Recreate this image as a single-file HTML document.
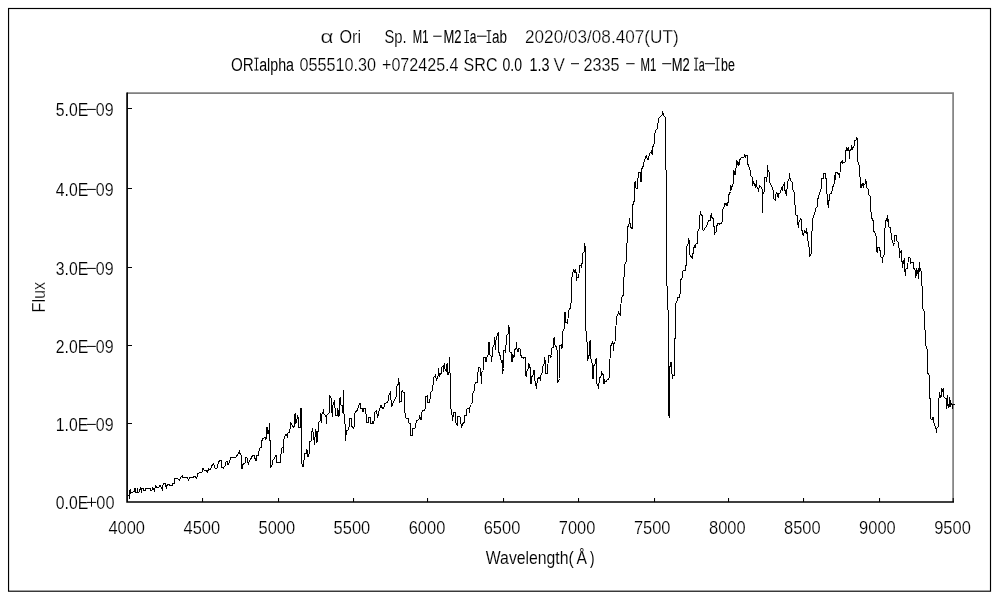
<!DOCTYPE html>
<html><head><meta charset="utf-8"><title>alpha Ori spectrum</title>
<style>
html,body{margin:0;padding:0;background:#fff;}
body{width:1000px;height:600px;overflow:hidden;}
svg{display:block;will-change:transform;}
text{font-family:"Liberation Sans",sans-serif;fill:#000;stroke:#fff;stroke-width:0.25px;}
</style></head><body>
<svg width="1000" height="600" viewBox="0 0 1000 600">

<rect x="8.55" y="8.5" width="981.95" height="582.7" fill="none" stroke="#000" stroke-width="1.15"/>
<path d="M127,93.05 H953.1 V502" fill="none" stroke="#808080" stroke-width="1.7"/>
<path d="M127.1,92.4 V502 H954" fill="none" stroke="#000" stroke-width="1.7"/>
<rect x="127.5" y="108" width="4.5" height="1" fill="#000"/>
<rect x="127.5" y="188" width="4.5" height="1" fill="#000"/>
<rect x="127.5" y="267" width="4.5" height="1" fill="#000"/>
<rect x="127.5" y="345" width="4.5" height="1" fill="#000"/>
<rect x="127.5" y="423" width="4.5" height="1" fill="#000"/>
<rect x="202" y="498" width="1.05" height="4" fill="#000"/>
<rect x="278" y="498" width="1.05" height="4" fill="#000"/>
<rect x="353" y="498" width="1.05" height="4" fill="#000"/>
<rect x="427" y="498" width="1.05" height="4" fill="#000"/>
<rect x="503" y="498" width="1.05" height="4" fill="#000"/>
<rect x="578" y="498" width="1.05" height="4" fill="#000"/>
<rect x="654" y="498" width="1.05" height="4" fill="#000"/>
<rect x="728" y="498" width="1.05" height="4" fill="#000"/>
<rect x="803" y="498" width="1.05" height="4" fill="#000"/>
<rect x="879" y="498" width="1.05" height="4" fill="#000"/>
<rect x="952.7" y="498" width="1.05" height="4" fill="#000"/>
<polyline points="128,495.5 129.3,496 129.5,498.7 129.8,490.2 130.5,490 130.7,494 131,492.5 133,492.5 133.2,491.3 134.3,491.3 134.6,488.3 135.4,488.3 135.6,492.7 137,492.7 137.2,488.3 137.8,488.5 138,492.5 138.8,492.5 139.5,490 140.2,489.5 140.5,487.3 141,487.5 141.3,492.7 141.8,492.5 142,488.3 143.5,488.3 144,490.5 145.3,490.3 146,488.2 150,488 151,490.5 152,490.3 152.5,488 153.5,488.7 154.3,490.7 155,488.5 155.3,485 155.8,485.2 156.2,487.7 158.8,488 159.5,486 160.5,485.3 161,487.3 161.8,487.6 162.3,490.7 162.8,488 163.2,483.2 165.3,483.2 165.8,486 166.5,487.4 167,485.5 167.5,484.3 169,484.3 169.5,485.4 172.5,485.4 173,483 174.3,483 174.7,479 175,478.5 177.5,478.5 179.5,480 180.5,477.5 182.5,476 183,477.5 187.5,478 188.5,480 189.5,477.5 193,477.5 195,476 196.5,478.5 198,473.5 202,472 203,468.5 204,470 206.5,471 207.5,472 208.5,469 210.5,469.5 212,465.5 213.5,464 215,468 217,468 218.5,462 220,460.5 221.5,460.5 222,467.5 223.5,468 225,466 225.5,463 227,461 228,465 229.5,462 230.5,458 232,457 236,457 236.5,455.5 238.5,454.5 239.5,450.5 240,453.5 241,455 241.5,468 242.5,468 243,464.5 245,463 246,457.5 247,458 248.5,465 249,462 251,458.5 252.5,455.5 254,455.5 255.5,460 256.5,460 256.5,455.5 258.5,455 259,451 260,448 261.5,447 262,440.5 263,438.5 265,437.5 266,440 266.5,427.5 267.8,427.5 268,433.5 269,430 269.5,423 269.5,440 270.5,440.5 270.5,467 272,465.5 272.5,460.5 274.5,458.5 275.5,455.5 276.5,455.5 276.5,462 280.5,462 281,454 281.8,448 283,447.5 283.2,452.5 283.5,442 284.5,436.5 286,434.5 287.5,437 288,433 289.5,432.5 290,429.5 290.5,422.5 292,425 294,428 294.3,415 295.3,413.3 295.8,414 296,423 296.8,422.3 297.3,415 298,417 298.8,417.3 299,427.5 300.3,427.5 300.3,408.3 301.5,408.3 301.5,463 303,467 304,460 305,453.5 306.5,453 306.8,449 308,456.5 308.5,454.5 309.5,453 310,441 311,441 311.5,433.5 312.5,428.5 313.5,435 314.5,445 315.5,429 316.5,433 317,443 317.5,432 318.5,431 319,422 320,421.5 320.5,413.5 321.5,423 322,414 323.5,410.5 324,414 326,416.5 326.5,423.5 327,415 329,413.5 329.5,395.5 331,397.5 331.5,408 332.5,417 333,405 334.5,400.5 335,408 335.5,415 337.5,415 337.8,408 339,417 339.5,398.5 340.5,397.5 341,405 342,405.5 343,412.5 343.5,390 343.5,413 344.5,414.5 345,424 345.5,440.5 346.5,430.5 348,430 349.5,425.5 349.5,418.5 351.5,418.5 352,426.5 353.5,428.5 354.5,425 354.5,413.5 356,411.5 357.5,410 359.5,403.5 360.5,403.5 360.8,408.5 362.5,408.5 363,412 364,408.5 365.5,408.5 365.8,414 366.5,414.5 366.5,422.5 368.5,422.5 368.5,417.5 370.5,417.5 370.5,423 372,423.5 373,421.5 373.5,423.5 374.5,419 375,412 376.5,410.5 377.5,418 378.5,413.5 379.5,409 381,405.5 382.5,408.5 384.5,407.5 385,403.5 387.5,402 388.5,399.5 389,395 390.5,392.5 391.5,407 393,403 394.5,400 396.5,396.5 396.5,396.5 397,386 398.5,384 398.5,378 399.5,385 399.5,402.5 401.5,401 401.8,391.5 402.5,390.5 403,392 404.5,392.5 404.5,412.5 405.5,413.5 406,418 408,418 409,423 410.5,423.5 410.8,435.5 412.5,435.5 412.5,428.5 415,428 416.5,421 419,419 419.5,415.5 421,420 421.5,414 422.5,410.5 424.5,410 425.5,407.5 425.5,397 427.5,395.5 427.5,402.5 429.5,402.5 430,399 430.5,392.5 432.5,390.5 433,385.5 434,377 435,376.5 435.5,375.5 436.5,380 438,376 438.5,368.5 439.5,377 440,375 441.5,373 442,367 443.5,365.5 443.8,372 444.5,363.5 445,369 446.5,371 447,364 447.8,363.5 448,375 449,372 449.5,357.5 449.5,372.5 450.5,373.5 450.5,408.5 450.5,408.5 451.5,409.5 452,415 452.5,420.5 453.5,413 455.5,412.5 455.8,423 457.5,425.5 458,416 459.5,416.5 460.5,417.5 461,424 461.5,427.5 462.5,424 464.5,422 465,415.5 466,416 466.5,410 468,408 469.5,408 469.7,412.5 470,407 471.5,404.5 472.5,402 472.5,394 474,391 474.5,384.5 475.5,383 477.5,382.5 477.8,374.5 478.5,367.5 480,367.5 480.5,375.5 481.2,376 481.5,383.5 481.8,372.5 483,371 483.5,357.5 485,357.5 486,362 486.5,358 488,355.5 488.5,342.5 489.5,342.5 489.8,354.5 491,356 491.5,362 492,357.5 492.5,348 494,345 494.5,337.5 495.5,350 496,340 497.5,334.5 498.5,332.5 498.5,351.5 499.5,353.5 500.5,357.5 501.5,362 502.5,361 502.5,373.5 503.5,368.5 503.8,350.5 505,350 505.2,353 505.5,346 506.5,344 506.8,335.5 508.2,334 508.5,325.5 509.5,329 509.7,352 511.5,353 512,362 512.8,354 514,357.5 514.5,350 516,348.5 516.5,342.5 517,349 518,352 518.5,349 520,348.5 520.5,354.5 522,357.5 523.5,358 524.5,357.5 525.5,357.5 526,375.5 526.5,377 527,371 528.5,368 529,363.5 529.5,367 530.5,367.5 530.5,383.5 531.5,383.5 531.8,377 533,375 533.5,370.5 534.5,370.5 534.8,379.5 536.5,388.5 537.5,378.5 539.5,377.5 540.5,380.5 540.5,375.5 542.5,372.5 542.8,366.5 544,364 544.5,357.5 545.5,361.5 545.8,373.5 547.5,373.5 547.8,364 548.5,363.5 549,355.5 550.5,355.5 550.5,357.5 551.5,355.5 551.8,348 553.5,347 553.8,339 554.5,337 554.8,344.5 556.5,347.5 557.5,352.5 557.8,382.5 559.5,378.5 559.8,345.5 561.5,345 561.8,348.5 562.5,345 562.5,331.5 564.5,328.5 564.8,312 565.5,312 565.8,322.5 567.5,323.5 567.8,319 568.5,318.5 568.8,310.5 570.5,307.5 571,303 571.7,302.5 571.5,279 572.5,275 573.5,270 574.5,272 575.2,270 576.2,273 576.5,280.5 577.2,277.5 578.5,277.5 578.8,274.5 579.5,273.5 579.8,265.5 581,265 581.5,267.5 581.8,263.5 582.5,263 582.8,253 584,252.5 584.5,243 584.8,252 585.2,246 585.5,295 585.5,330.5 586.5,331.5 586.8,342 587.5,342.5 587.8,360.5 588.5,356 589.3,355.5 589.5,342.5 590.5,340.5 590.8,358.5 591.5,359.5 592.2,364.5 592.5,378.5 593.5,378 593.8,366 595,364 595.5,359.5 596.5,358.5 596.8,383.5 598,385.5 598.5,388.5 599.5,378.5 601.5,375 601.8,372.5 602.8,374.5 603.5,375 603.8,383.5 604.5,383.5 604.8,380.5 606,382 607.5,379.5 609.5,378.5 609.8,359 610.5,358.5 610.8,346 612.5,342.5 613.5,346 613.8,350.5 614,343.5 615.5,341.5 615.8,326 616.5,325.5 616.8,316.5 618.5,312.5 619.5,314.5 620.5,315.5 620.8,304.5 621.5,303.5 621.8,297.5 623.5,294.5 623.5,278 624.5,277.5 624.8,264.5 626.5,261.5 626.8,243 627.8,242.5 627.5,227.5 629,224.5 629.5,218.5 630.5,227 632.2,228.5 632.5,206.5 633.8,201.5 634.5,201 634.8,182.5 635.3,180.8 635.6,187.9 637.3,188.6 638.4,172.3 640.5,172.3 641,182.2 641.5,169.4 643.4,165.9 644.4,160.2 646.2,156 648,160.2 649.7,153.9 651.4,151 652.3,155.3 652.6,147.5 654.3,143.2 654.6,134 656.1,129.8 657.5,128.4 658.5,118.5 660.4,116.3 662.2,114.9 662.8,112.4 663.9,115.6 665.3,117.5 665.6,169.4 666.5,170.2 666.5,285.5 667.5,286.5 667.5,309.5 668.5,310.5 668.5,415 669.5,417.5 669.8,368 670.5,363 671.5,362.5 672.2,378.5 673.2,375.5 674.5,375 674.5,339 675.5,338.5 675.5,304.5 676.2,302.5 677.2,301 677.5,297.5 679.5,297 679.5,294.5 680.5,293.5 680.5,280.5 682,278 682.5,271.5 683.5,270.5 685.2,270.5 685.5,266 686.5,265.5 686.5,260 686.5,247 688.2,244 688.5,238.5 689.5,241 689.8,255 692.5,258.5 693.5,249 694.5,246 695.5,247.5 696,244 697.2,243.5 697.5,231.5 699.2,229 699.5,217 700.5,212.5 701.5,215 702.2,215.5 702.5,229.5 703.5,230.5 707.5,224.5 708.5,220.5 710.5,220 710.8,216 711.5,213.5 711.8,217.5 713.2,218.5 713.8,226.5 714.5,227 714.8,233.5 716.2,232 716.5,227 717.5,224 719,223.5 719.5,224.5 720.5,223.5 721.5,223 722.5,220.5 722.8,209.5 724.2,207 725,203 726.2,205 726.8,203.5 727.5,205 728,202.5 728.8,202 728.8,195 730.5,191.5 730.8,185 731.2,190 732.5,184.5 733.5,183.5 733.8,170.5 735,175 735.5,168.5 736.5,167.5 736.8,160 737.8,164.5 738.2,162 739,165.5 739.5,160.5 740.8,158 742.5,157.5 744.2,157 744.5,155.5 745.5,158 745.8,155.5 747.5,155.5 747.8,164.5 748.8,165.5 749.2,169 750.2,170 750.8,175.5 752.2,177 752.8,185.5 753.5,181 754.5,184.5 755.8,187.5 756.2,180 756.8,186.5 758.5,190.5 759.5,185.5 760.8,187 761.5,188 762,189 762,213.5 762.2,194 762.8,194 764.2,191.5 764.5,177.5 766,177 766.5,182 767,178 767.5,165 768,170 769.2,172.5 769.5,182 770.8,185 772.5,187.5 773.5,193 773.8,198.5 775.5,200.5 775.8,194 776.8,192.5 777.5,194.5 778.2,197.5 778.5,193.5 780,193 781.5,188.5 782.2,190 783.2,185 784.2,183.5 784.5,190 785.5,190.5 786.2,195.5 786.5,189.5 787.2,188.5 787.5,182 789.2,179 789.5,173 789.8,178 791.2,181.5 792.5,182.5 792.8,189.5 794.2,192.5 795.7,215 797.2,215.7 798.3,227.7 799.2,221 801,218.7 801.7,229.2 803.2,235.2 804.7,230.7 806.2,233 806.7,228.5 807.7,239 809.2,248 809.7,257 811.2,253.2 811.5,231.5 812.2,230.7 812.7,218.7 814.8,212.7 815.7,208.2 817.2,206.7 817.8,199.2 819.3,194 820.5,190 821.5,188 821.8,178.5 823,179 823.5,173.5 825.5,173.5 825.8,178.5 826.5,179 826.8,190 827.2,197.7 828.3,208.2 829.2,198.5 829.8,194 831.7,193.2 832.2,190 832.2,190 832.5,187.5 834,184.5 834.5,175.5 835.2,180 835.8,172.5 837,172.5 839,174.5 839.5,177.5 839.8,173 840.5,172.5 840.8,163 842.2,160.5 842.8,163 845.2,162 845.5,150.5 846.5,150 846.8,147.5 847.5,150.5 848.2,147.5 848.8,150.5 849.5,151 849.5,158.5 850,150.5 851.2,149.5 851.5,145.5 852.5,148.5 853.5,146.5 854.5,145.5 854.8,140.5 856.2,140 856.5,137.5 857.5,139 857.8,162 858.8,162.5 859.2,166.5 859.8,167 860,177 860.8,177.5 861,188 861.5,184.5 862.5,184 863.5,187.5 863.8,184 865,184.5 865.5,180.5 866.5,182.5 866.8,187.5 868.5,189.5 868.8,194.5 870.5,197 870.8,212 871.5,212.5 871.8,218 873.2,221 873.8,231.5 874.5,231.5 876.5,237.5 876.8,251 877.5,252.5 877.8,247.5 879.5,247.5 879.8,250.5 880.5,251 880.8,257 882.2,257.5 882.5,262.5 882.8,257 884.5,254.5 884.5,229 885.5,228.5 885.8,221 886.8,219 887.5,215.5 888,222 888.5,219 889,227 890.5,228 891.2,235 891.8,235.5 891.5,239 893,242.5 893.5,245.5 894.5,242.5 894.8,235.5 896.5,235.5 896.8,240.5 898.5,242.5 898.8,247.5 899.8,249 899.5,257.5 900.2,252 901.5,250.5 901.8,261.5 902.5,262 902.5,267.5 903.5,261 904.5,258.5 904.8,270 905.5,275.5 906,269 907.5,268 907.8,263.5 908.5,262.5 908.8,257.5 910,257.5 910.5,263 912,262.5 913.5,262.5 913.8,268.5 915,269.5 915.5,277.5 916.2,268 916.8,275.5 917.5,270 918.5,278.5 919,268 919.5,262 919.8,272 920.5,269.5 921.5,272.5 922,286 922.3,287 922.3,308.5 923.5,309.5 924.5,312.5 924.5,325 925.5,335 925.5,344.5 926.7,349 927.5,349.5 927.5,373.5 928.5,374 929.5,376.5 929.5,398.5 930.5,398.5 930.5,418.5 932,419.5 932.5,417.5 933.2,417.5 933.5,422 934.5,423.5 934.8,426 935.8,427.5 936.5,432.5 936.8,428 937.8,427 938.5,426.5 938.5,399 939.5,398.5 939.8,392.5 940.2,398 941.2,397 941.5,388.5 942.2,392 943.2,388.5 943.5,396.5 944.5,397.5 945.2,398 946.2,398 946.5,408.5 946.8,404 947.5,395.5 947.8,405 948.5,406.5 949,404 949.5,397.5 950,407 950.5,400.5 951.2,404.5 952,404 952.5,408.5 952.8,404 954.5,404" fill="none" stroke="#000" stroke-width="1" stroke-linejoin="miter" stroke-linecap="butt" shape-rendering="crispEdges"/>
<text x="55.8" y="116" font-size="18" text-anchor="start" textLength="32.4" lengthAdjust="spacingAndGlyphs" style="stroke-width:0.1px">5.0E</text>
<rect x="87" y="108.9" width="8.8" height="1" fill="#000"/>
<text x="95.8" y="116" font-size="18" text-anchor="start" textLength="17.8" lengthAdjust="spacingAndGlyphs" style="stroke-width:0.18px">09</text>
<text x="55.8" y="196" font-size="18" text-anchor="start" textLength="32.4" lengthAdjust="spacingAndGlyphs" style="stroke-width:0.1px">4.0E</text>
<rect x="87" y="188.9" width="8.8" height="1" fill="#000"/>
<text x="95.8" y="196" font-size="18" text-anchor="start" textLength="17.8" lengthAdjust="spacingAndGlyphs" style="stroke-width:0.18px">09</text>
<text x="55.8" y="275" font-size="18" text-anchor="start" textLength="32.4" lengthAdjust="spacingAndGlyphs" style="stroke-width:0.1px">3.0E</text>
<rect x="87" y="267.9" width="8.8" height="1" fill="#000"/>
<text x="95.8" y="275" font-size="18" text-anchor="start" textLength="17.8" lengthAdjust="spacingAndGlyphs" style="stroke-width:0.18px">09</text>
<text x="55.8" y="353" font-size="18" text-anchor="start" textLength="32.4" lengthAdjust="spacingAndGlyphs" style="stroke-width:0.1px">2.0E</text>
<rect x="87" y="345.9" width="8.8" height="1" fill="#000"/>
<text x="95.8" y="353" font-size="18" text-anchor="start" textLength="17.8" lengthAdjust="spacingAndGlyphs" style="stroke-width:0.18px">09</text>
<text x="55.8" y="431" font-size="18" text-anchor="start" textLength="32.4" lengthAdjust="spacingAndGlyphs" style="stroke-width:0.1px">1.0E</text>
<rect x="87" y="423.9" width="8.8" height="1" fill="#000"/>
<text x="95.8" y="431" font-size="18" text-anchor="start" textLength="17.8" lengthAdjust="spacingAndGlyphs" style="stroke-width:0.18px">09</text>
<text x="55.8" y="509" font-size="18" text-anchor="start" textLength="32.4" lengthAdjust="spacingAndGlyphs" style="stroke-width:0.1px">0.0E</text>
<rect x="87" y="501.9" width="9.2" height="1" fill="#000"/>
<rect x="91" y="497.5" width="1" height="9.2" fill="#000"/>
<text x="96.3" y="509" font-size="18" text-anchor="start" textLength="18.2" lengthAdjust="spacingAndGlyphs" style="stroke-width:0.18px">00</text>
<text x="108.4" y="534" font-size="18" text-anchor="start" textLength="36.6" lengthAdjust="spacingAndGlyphs" style="stroke-width:0.18px">4000</text>
<text x="183.5" y="534" font-size="18" text-anchor="start" textLength="36.6" lengthAdjust="spacingAndGlyphs" style="stroke-width:0.18px">4500</text>
<text x="258.5" y="534" font-size="18" text-anchor="start" textLength="36.6" lengthAdjust="spacingAndGlyphs" style="stroke-width:0.18px">5000</text>
<text x="333.6" y="534" font-size="18" text-anchor="start" textLength="36.6" lengthAdjust="spacingAndGlyphs" style="stroke-width:0.18px">5500</text>
<text x="408.7" y="534" font-size="18" text-anchor="start" textLength="36.6" lengthAdjust="spacingAndGlyphs" style="stroke-width:0.18px">6000</text>
<text x="483.7" y="534" font-size="18" text-anchor="start" textLength="36.6" lengthAdjust="spacingAndGlyphs" style="stroke-width:0.18px">6500</text>
<text x="558.8" y="534" font-size="18" text-anchor="start" textLength="36.6" lengthAdjust="spacingAndGlyphs" style="stroke-width:0.18px">7000</text>
<text x="633.9" y="534" font-size="18" text-anchor="start" textLength="36.6" lengthAdjust="spacingAndGlyphs" style="stroke-width:0.18px">7500</text>
<text x="709.0" y="534" font-size="18" text-anchor="start" textLength="36.6" lengthAdjust="spacingAndGlyphs" style="stroke-width:0.18px">8000</text>
<text x="784.0" y="534" font-size="18" text-anchor="start" textLength="36.6" lengthAdjust="spacingAndGlyphs" style="stroke-width:0.18px">8500</text>
<text x="859.1" y="534" font-size="18" text-anchor="start" textLength="36.6" lengthAdjust="spacingAndGlyphs" style="stroke-width:0.18px">9000</text>
<text x="934.2" y="534" font-size="18" text-anchor="start" textLength="36.6" lengthAdjust="spacingAndGlyphs" style="stroke-width:0.18px">9500</text>
<text x="320.5" y="43" font-size="18" text-anchor="start" textLength="13" lengthAdjust="spacingAndGlyphs">&#945;</text>
<text x="339.4" y="43" font-size="18" text-anchor="start" textLength="21.6" lengthAdjust="spacingAndGlyphs" style="stroke-width:0.18px">Ori</text>
<text x="384.4" y="43" font-size="18" text-anchor="start" textLength="22.2" lengthAdjust="spacingAndGlyphs" style="stroke-width:0.1px">Sp.</text>
<text x="412.8" y="43" font-size="18" text-anchor="start" textLength="15.6" lengthAdjust="spacingAndGlyphs" style="stroke:#000;stroke-width:0.12px">M1</text>
<rect x="433.2" y="35.7" width="8.4" height="1" fill="#000"/>
<text x="443.4" y="43" font-size="18" text-anchor="start" textLength="18" lengthAdjust="spacingAndGlyphs" style="stroke:#000;stroke-width:0.12px">M2</text>
<path d="M464.4,30.7 h4.6 M464.4,42.5 h4.6 M466.7,30.7 v11.8" fill="none" stroke="#000" stroke-width="1"/>
<text x="469.8" y="43" font-size="18" text-anchor="start" textLength="6.6" lengthAdjust="spacingAndGlyphs" style="stroke:#000;stroke-width:0.12px">a</text>
<rect x="477" y="35.7" width="9.6" height="1" fill="#000"/>
<path d="M486.6,30.7 h4.6 M486.6,42.5 h4.6 M488.90000000000003,30.7 v11.8" fill="none" stroke="#000" stroke-width="1"/>
<text x="492" y="43" font-size="18" text-anchor="start" textLength="15" lengthAdjust="spacingAndGlyphs" style="stroke:none">ab</text>
<text x="525" y="43" font-size="18" text-anchor="start" textLength="153.6" lengthAdjust="spacingAndGlyphs">2020/03/08.407(UT)</text>
<text x="231" y="70.5" font-size="18" text-anchor="start" textLength="22.8" lengthAdjust="spacingAndGlyphs" style="stroke-width:0.1px">OR</text>
<path d="M254.3,58.2 h4.3 M254.3,70.0 h4.3 M256.45,58.2 v11.8" fill="none" stroke="#000" stroke-width="1"/>
<text x="259.2" y="70.5" font-size="18" text-anchor="start" textLength="34.8" lengthAdjust="spacingAndGlyphs" style="stroke:none">alpha</text>
<text x="299.5" y="70.5" font-size="18" text-anchor="start" textLength="76.5" lengthAdjust="spacingAndGlyphs" style="stroke-width:0.18px">055510.30</text>
<text x="382" y="70.5" font-size="18" text-anchor="start" textLength="76.5" lengthAdjust="spacingAndGlyphs" style="stroke-width:0.18px">+072425.4</text>
<text x="463.6" y="70.5" font-size="18" text-anchor="start" textLength="34" lengthAdjust="spacingAndGlyphs" style="stroke-width:0.18px">SRC</text>
<text x="502.5" y="70.5" font-size="18" text-anchor="start" textLength="19.5" lengthAdjust="spacingAndGlyphs" style="stroke:none">0.0</text>
<text x="529.5" y="70.5" font-size="18" text-anchor="start" textLength="20" lengthAdjust="spacingAndGlyphs" style="stroke:none">1.3</text>
<text x="553.5" y="70.5" font-size="18" text-anchor="start" textLength="11.5" lengthAdjust="spacingAndGlyphs">V</text>
<rect x="571" y="63.2" width="8.0" height="1" fill="#000"/>
<text x="583.5" y="70.5" font-size="18" text-anchor="start" textLength="36" lengthAdjust="spacingAndGlyphs" style="stroke-width:0.18px">2335</text>
<rect x="626.2" y="63.2" width="8.4" height="1" fill="#000"/>
<text x="640.6" y="70.5" font-size="18" text-anchor="start" textLength="15.8" lengthAdjust="spacingAndGlyphs" style="stroke:#000;stroke-width:0.12px">M1</text>
<rect x="662.2" y="63.2" width="9.0" height="1" fill="#000"/>
<text x="671.8" y="70.5" font-size="18" text-anchor="start" textLength="18" lengthAdjust="spacingAndGlyphs" style="stroke:#000;stroke-width:0.12px">M2</text>
<path d="M694,58.2 h4.2 M694,70.0 h4.2 M696.1,58.2 v11.8" fill="none" stroke="#000" stroke-width="1"/>
<text x="698.8" y="70.5" font-size="18" text-anchor="start" textLength="6" lengthAdjust="spacingAndGlyphs" style="stroke:#000;stroke-width:0.12px">a</text>
<rect x="704.8" y="63.2" width="10.2" height="1" fill="#000"/>
<path d="M715,58.2 h4.6 M715,70.0 h4.6 M717.3,58.2 v11.8" fill="none" stroke="#000" stroke-width="1"/>
<text x="721" y="70.5" font-size="18" text-anchor="start" textLength="13.8" lengthAdjust="spacingAndGlyphs" style="stroke:#000;stroke-width:0.12px">be</text>
<text x="485.8" y="564" font-size="18" text-anchor="start" textLength="88" lengthAdjust="spacingAndGlyphs" style="stroke-width:0.1px">Wavelength(</text>
<text x="576.5" y="564" font-size="18" text-anchor="start" textLength="10.5" lengthAdjust="spacingAndGlyphs" style="stroke-width:0.1px">&#197;</text>
<text x="590" y="564" font-size="18" text-anchor="start" textLength="4.5" lengthAdjust="spacingAndGlyphs" style="stroke:none">)</text>
<text transform="translate(45,312.4) rotate(-90)" font-size="18" textLength="30.6" lengthAdjust="spacingAndGlyphs">Flux</text>
</svg></body></html>
